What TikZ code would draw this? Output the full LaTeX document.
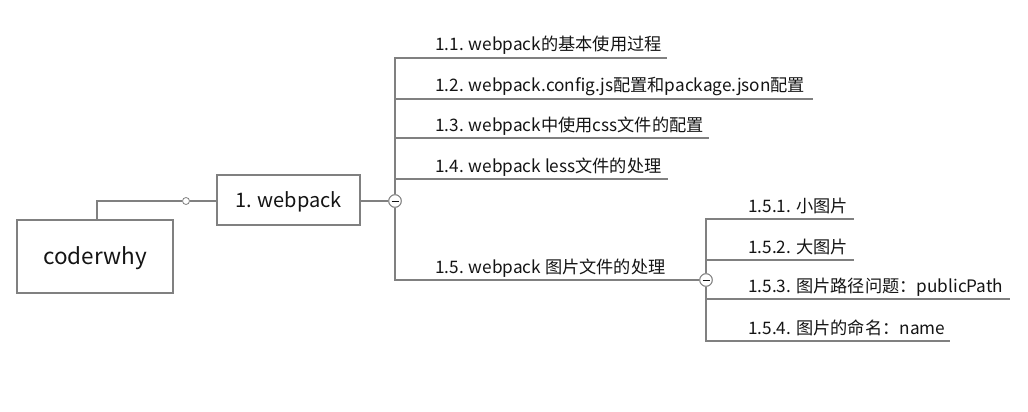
\documentclass[tikz,border=0pt]{standalone}
\usepackage{fontspec}
\setmainfont{Noto Sans CJK SC}
\begin{document}
\begin{tikzpicture}[x=1pt,y=-1pt,
  line/.style={draw=linegray,line width=2.6pt},
  thinline/.style={draw=linegray,line width=2pt},
  box/.style={draw=linegray,line width=2pt,fill=white,inner sep=0pt},
  topic/.style={anchor=base west,inner sep=0pt,text=textcol,font=\fontsize{17.2}{19}\selectfont},
  fold/.style={circle,draw=linegray,line width=0.9pt,fill=white,minimum size=12.5pt,inner sep=0pt},
  dot/.style={circle,draw=linegray,line width=0.8pt,fill=white,minimum size=7pt,inner sep=0pt}]
\definecolor{linegray}{HTML}{808080}
\definecolor{textcol}{HTML}{141414}
\useasboundingbox (0,0) rectangle (1028,412);
% root and main topic
\node[box,minimum width=156pt,minimum height=73pt,text height=19pt,text depth=2pt,font=\fontsize{22.5}{24}\selectfont,text=textcol] (cw) at (95,256) {coderwhy};
\node[box,minimum width=143pt,minimum height=50pt,text height=17pt,text depth=2.4pt,font=\fontsize{20}{22}\selectfont,text=textcol] (wp) at (288.5,200) {1. webpack};
\node[dot] (sc) at (186,201) {};
\draw[thinline] ([xshift=2pt]cw.north) |- (sc);
\draw[line] (sc) -- (wp.west |- sc);
% fold circle 1
\node[fold] (f1) at (395,201) {};
\draw[line] (wp.east |- f1) -- (f1);
% subtopics
\coordinate (e11) at (667,58);
\coordinate (e12) at (813,99);
\coordinate (e13) at (709,138);
\coordinate (e14) at (668,179);
\node[fold] (f2) at (706,280) {};
\draw[line] (f1.north) |- (e11);
\draw[line] (f1) |- (e12);
\draw[line] (f1) |- (e13);
\draw[line] (f1) |- (e14);
\draw[line] (f1.south) |- (f2.west);
\node[topic] (t11) at (435,51) {1.1. webpack的基本使用过程};
\node[topic] (t12) at (435,92) {1.2. webpack.config.js配置和package.json配置};
\node[topic] (t13) at (435,131) {1.3. webpack中使用css文件的配置};
\node[topic] (t14) at (435,172) {1.4. webpack less文件的处理};
\node[topic] (t15) at (435,273) {1.5. webpack 图片文件的处理};
% sub-subtopics
\coordinate (e151) at (854,219);
\coordinate (e152) at (854,260);
\coordinate (e153) at (1010,299);
\coordinate (e154) at (950,341);
\draw[line] (f2.north) |- (e151);
\draw[line] (f2.north) |- (e152);
\draw[line] (f2.south) |- (e153);
\draw[line] (f2.south) |- (e154);
\node[topic] (t151) at (748,212) {1.5.1. 小图片};
\node[topic] (t152) at (748,253) {1.5.2. 大图片};
\node[topic] (t153) at (748,292) {1.5.3. 图片路径问题：publicPath};
\node[topic] (t154) at (748,334) {1.5.4. 图片的命名：name};
% redraw fold circles on top with minus signs
\node[fold] at (f1) {};
\draw[textcol,line width=0.9pt] ([xshift=-3.5pt]f1.center) -- ([xshift=3.5pt]f1.center);
\node[fold] at (f2) {};
\draw[textcol,line width=0.9pt] ([xshift=-3.5pt]f2.center) -- ([xshift=3.5pt]f2.center);
\end{tikzpicture}
\end{document}
